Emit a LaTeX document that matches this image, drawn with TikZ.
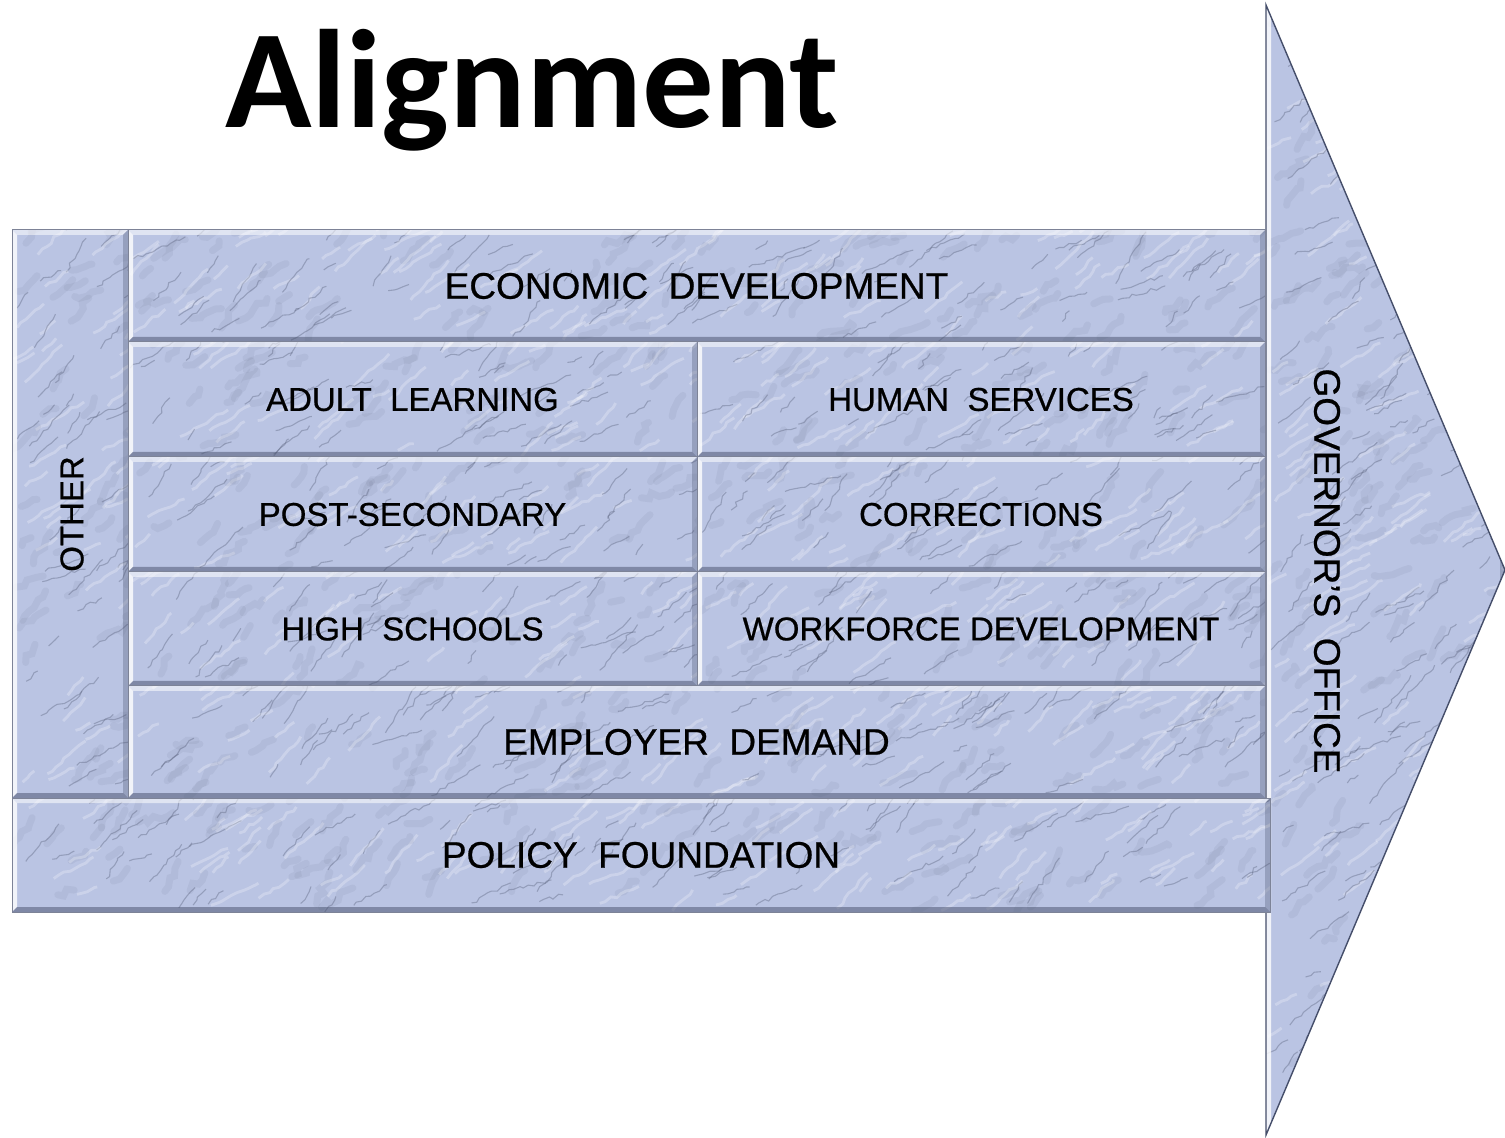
\documentclass[tikz,border=0pt]{standalone}
\usepackage{fontspec}
\setmainfont{Liberation Sans}
\newfontfamily\lblfont{Liberation Sans}[FakeBold=0.6]
\newfontfamily\titlefont{Carlito}
\usetikzlibrary{calc,decorations.pathmorphing}
\definecolor{marble}{HTML}{BAC4E3}
\definecolor{vein}{HTML}{5D6580}
\definecolor{edge}{HTML}{454E6A}
\newcommand\marbletex{%
  \coordinate (mSW) at (path picture bounding box.south west);
  \coordinate (mNE) at (path picture bounding box.north east);
  \path let \p1=(mSW), \p2=(mNE) in
    \pgfextra{\pgfmathtruncatemacro\mN{max(4,(\x2-\x1)/20*(\y2-\y1)/20)}\global\let\gmN\mN};
  \foreach \k in {1,...,\gmN}{%
    \draw[blotline] let \p1=(mSW), \p2=(mNE), \n1={rnd}, \n2={rnd}, \n3={10+60*rnd}, \n4={5+14*rnd} in
      ({\x1+\n1*(\x2-\x1)}, {\y1+\n2*(\y2-\y1)}) -- ++(\n3:{\n4*1pt});
    \draw[veinline] let \p1=(mSW), \p2=(mNE), \n1={rnd}, \n2={rnd}, \n3={15+45*rnd}, \n4={6+24*rnd} in
      ({\x1+\n1*(\x2-\x1)}, {\y1+\n2*(\y2-\y1)}) -- ++(\n3:{\n4*1pt});
    \draw[lightline] let \p1=(mSW), \p2=(mNE), \n1={rnd}, \n2={rnd}, \n3={20+30*rnd}, \n4={8+20*rnd} in
      ({\x1+\n1*(\x2-\x1)}, {\y1+\n2*(\y2-\y1)}) -- ++(\n3:{\n4*1pt});
  }
  \fill[white,opacity=.55] (mSW|-mNE) -- (mNE) -- ($(mNE)+(-2.5pt,-2.5pt)$) -- ($(mSW|-mNE)+(2.5pt,-2.5pt)$) -- cycle;
  \fill[white,opacity=.8] (mSW|-mNE) -- ($(mSW|-mNE)+(2.5pt,-2.5pt)$) -- ($(mSW)+(2.5pt,2.5pt)$) -- (mSW) -- cycle;
  \fill[edge,opacity=.5] (mSW) -- ($(mSW)+(2.5pt,2.5pt)$) -- ($(mNE|-mSW)+(-2.5pt,2.5pt)$) -- (mNE|-mSW) -- cycle;
  \fill[edge,opacity=.3] (mNE|-mSW) -- ($(mNE|-mSW)+(-2.5pt,2.5pt)$) -- ($(mNE)+(-2.5pt,-2.5pt)$) -- (mNE) -- cycle;
}
\tikzset{
  veinline/.style={vein,opacity=.4,line width=.55pt,decorate,
    decoration={random steps,segment length=2.5pt,amplitude=.9pt}},
  blotline/.style={vein,opacity=.09,line width=3.5pt,line cap=round,decorate,
    decoration={random steps,segment length=3pt,amplitude=1.5pt}},
  lightline/.style={white,opacity=.25,line width=1.4pt,decorate,
    decoration={random steps,segment length=3pt,amplitude=.8pt}},
  marblefill/.style={fill=marble,path picture={\marbletex}},
  box/.style={marblefill,draw=edge!70,line width=.5pt,inner sep=0pt,text=black},
  cellbox/.style={box,minimum width=284.5pt,minimum height=57.5pt,font=\lblfont\fontsize{16.5}{18}\selectfont},
  widebox/.style={box,font=\lblfont\fontsize{18.5}{20}\selectfont},
}
\begin{document}
\pgfmathsetseed{7}
\begin{tikzpicture}[x=0.5pt,y=-0.5pt]
\useasboundingbox (0,0) rectangle (1505,1138);
% arrow
\coordinate (aTop) at (1266,5);
\coordinate (aTip) at (1505,570);
\coordinate (aBot) at (1266,1135);
\path[marblefill,draw=edge,line width=.7pt] (aTop) -- (aTip) -- (aBot) -- cycle;
\node[font=\lblfont\fontsize{18.5}{20}\selectfont,rotate=-90] (gov) at (1327,571) {GOVERNOR’S\ \ OFFICE};
% title
\node[anchor=base,font=\titlefont\bfseries\fontsize{70}{72}\selectfont,xscale=1.02] (title) at (532,128) {Alignment};
% boxes
\node[box,minimum width=58pt,minimum height=284pt] (other) at (70,514) {};
\node[font=\lblfont\fontsize{16.5}{18}\selectfont,rotate=90] (otherlbl) at (72,514) {OTHER};
\node[widebox,minimum width=568.5pt,minimum height=56pt] (econ) at (696.5,286) {ECONOMIC\ \ DEVELOPMENT};
\node[cellbox] (adult) at (412.5,399.5) {ADULT\ \ LEARNING};
\node[cellbox,minimum width=284pt] (human) at (981,399.5) {HUMAN\ \ SERVICES};
\node[cellbox] (post) at (412.5,514.5) {POST-SECONDARY};
\node[cellbox,minimum width=284pt] (corr) at (981,514.5) {CORRECTIONS};
\node[cellbox,minimum height=57pt] (high) at (412.5,629) {HIGH\ \ SCHOOLS};
\node[cellbox,minimum width=284pt,minimum height=57pt] (wf) at (981,629) {WORKFORCE DEVELOPMENT};
\node[widebox,minimum width=568.5pt,minimum height=56pt] (emp) at (696.5,742) {EMPLOYER\ \ DEMAND};
\node[widebox,minimum width=629pt,minimum height=57pt] (policy) at (641,855) {POLICY\ \ FOUNDATION};
\end{tikzpicture}
\end{document}
